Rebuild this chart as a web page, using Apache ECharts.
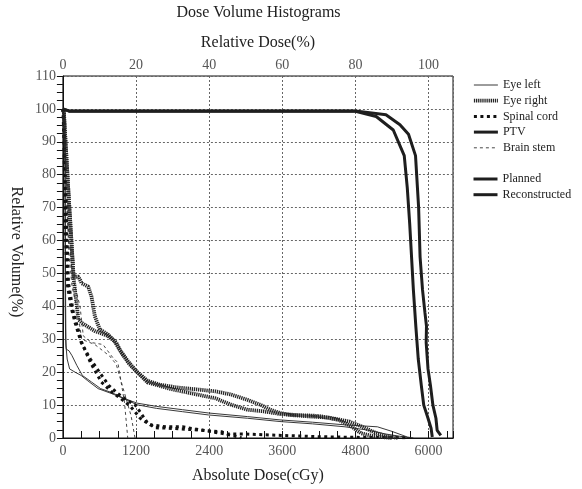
<!DOCTYPE html>
<html>
<head>
<meta charset="utf-8">
<script src="https://cdn.jsdelivr.net/npm/echarts@6/dist/echarts.min.js"></script>
<style>
html,body{margin:0;padding:0;background:#fff;}
#c{width:582px;height:489px;}
</style>
</head>
<body>
<div id="c"></div>
<script>
// ---- data (dose in cGy, relative volume in %) ----
const title = 'Dose Volume Histograms';
const bottomAxisName = 'Absolute Dose(cGy)';
const topAxisName = 'Relative Dose(%)';
const leftAxisName = 'Relative Volume(%)';
const legendGroup1 = ['Eye left', 'Eye right', 'Spinal cord', 'PTV', 'Brain stem'];
const legendGroup2 = ['Planned', 'Reconstructed'];
const prescriptionDose = 6000; // 100 % relative dose

const eyeLeftA = [[0,100],[30,99],[38,40],[45,30],[55,27],[100,26.5],[150,25],[230,22],[320,19],[470,17],[620,15],[800,13.8],[1010,12],[1216,10.6],[1536,9.6],[1962,8.6],[2389,7.6],[3028,6.5],[3561,5.5],[4094,4.8],[4627,4],[5160,3.4],[5400,2],[5650,0.3],[5750,0]];
const eyeLeftB = [[0,100],[35,99],[45,40],[50,28],[70,24],[110,21],[200,20],[300,19],[400,17.5],[578,15],[800,13.5],[1010,11.9],[1216,10.1],[1536,9.0],[1962,8.0],[2389,7.0],[3028,6.0],[3561,5.0],[4094,4.3],[4627,3.4],[5000,2.4],[5300,1.2],[5640,0.2],[5700,0]];

const eyeRightA = [[0,100],[16,99],[43,90],[96,73],[139,60],[176,49],[256,49],[308,47],[416,46],[469,43],[497,40],[524,37],[605,33],[736,31.5],[875,29],[956,26],[1091,22.4],[1226,19.9],[1388,17.4],[1589,16.2],[1856,15.4],[2229,14.7],[2495,14.2],[2762,13.2],[3028,11.6],[3241,10.1],[3401,8.6],[3561,7.6],[3721,7.0],[4094,6.5],[4361,6.2],[4700,5.0],[4900,3.5],[5100,1.8],[5300,0.6],[5500,0]];
const eyeRightB = [[0,100],[16,99],[43,90],[96,73],[139,60],[173,49],[254,36],[308,35],[524,32.5],[740,31],[848,29.4],[929,26.9],[1064,23.4],[1199,20.4],[1388,16.9],[1766,14.9],[2414,12.4],[2495,12.1],[2762,10.1],[3028,8.6],[3295,8.1],[3561,7.3],[3828,7.0],[4201,6.7],[4521,5.5],[4734,3.5],[4894,1.4],[5100,0.5],[5400,0]];

const spinalCordA = [[0,100],[20,95],[60,65],[92,47],[173,38],[250,33],[310,29],[450,23],[632,17],[800,14],[956,11.9],[1109,9.6],[1269,6.0],[1429,4.0],[1700,3.4],[1962,3.4],[2282,2.4],[2602,1.4],[2869,0.4],[2930,0]];
const spinalCordB = [[0,100],[15,92],[45,60],[70,47],[130,40],[200,35],[300,29],[450,24],[600,20],[750,16],[900,13.5],[1050,11.5],[1189,10],[1376,4.9],[1509,3.1],[1714,3.0],[2240,2.4],[2603,1.9],[2700,1.2],[2987,1.2],[3403,0.9],[4203,0.4],[4736,0.2],[5664,0.1]];

const ptvA = [[0,100],[100,99.3],[4800,99.3],[5140,97.7],[5420,93.6],[5600,85.8],[5650,76],[5690,65],[5720,55],[5750,45],[5790,34],[5830,24],[5880,16],[5920,10],[5990,6],[6040,3],[6060,0.3]];
const ptvB = [[0,100],[100,99.4],[4800,99.4],[5300,98.2],[5530,95.2],[5670,92.3],[5785,85.8],[5836,70],[5860,55],[5900,45],[5940,38],[5965,34],[5960,29],[5990,21],[6030,16],[6070,10],[6120,6],[6140,2.3],[6200,0.8]];

const brainStemA = [[0,100],[20,95],[50,80],[100,60],[160,49],[227,44],[281,40],[335,31],[470,29],[659,28.4],[713,27],[821,24.4],[902,22.9],[929,19.9],[1010,10.9],[1064,0]];
const brainStemB = [[0,100],[20,94],[50,76],[100,56],[150,46],[200,42],[254,37],[308,30],[524,28.4],[767,24.9],[875,22.4],[929,18.9],[1118,6.8],[1183,0]];

const doseTicks = {min: 0, max: 6400, interval: 1200};
const volTicks = {min: 0, max: 110, interval: 10};
const relTicks = {min: 0, interval: 20};

// ---- styles ----
const FONT = 'Liberation Serif';
const styles = {
  'Eye left':   {width: 0.9, type: 'solid', color: '#222'},
  'Eye right':  {width: 3.8, type: [1.3, 0.8], color: '#262626'},
  'Spinal cord':{width: 3, type: [3, 3.5], color: '#111'},
  'PTV':        {width: 3, type: 'solid', color: '#1e1e1e'},
  'Brain stem': {width: 0.9, type: [3, 3], color: '#333'},
  'Planned':    {width: 3, type: 'solid', color: '#1e1e1e'},
  'Reconstructed': {width: 3, type: 'solid', color: '#1e1e1e'}
};

function mk(name, data, z) {
  const st = styles[name];
  return {
    name: name, type: 'line', data: data, symbol: 'none', showSymbol: false,
    xAxisIndex: 0, yAxisIndex: 0, z: z || 2, silent: true, animation: false,
    lineStyle: {width: st.width, type: st.type, color: st.color},
    itemStyle: {color: st.color}
  };
}

const series = [
  mk('Eye left', eyeLeftA), mk('Eye left', eyeLeftB),
  mk('Brain stem', brainStemA), mk('Brain stem', brainStemB),
  mk('Spinal cord', spinalCordA), mk('Spinal cord', spinalCordB),
  mk('Eye right', eyeRightA, 3), mk('Eye right', eyeRightB, 3),
  mk('PTV', ptvA, 4), mk('PTV', ptvB, 4),
  mk('Planned', []), mk('Reconstructed', [])
];

const gridL = 54, gridR = 582 - 453, gridT = 76, gridB = 489 - 443;
const plain = function (v) { return String(Math.round(v)); };
const labelStyle = {fontFamily: FONT, fontSize: 14, color: '#555', formatter: plain};

const legendBase = {
  orient: 'vertical', left: 472, padding: 0, itemWidth: 24, itemHeight: 14, itemGap: 3.7,
  icon: 'inherit', selectedMode: false,
  itemStyle: {opacity: 0},
  lineStyle: {width: 'inherit', type: 'inherit', color: 'inherit'},
  textStyle: {fontFamily: FONT, fontSize: 12, color: '#222'}
};

const option = {
  animation: false,
  backgroundColor: '#fff',
  title: {
    text: title, left: (gridL + 453) / 2, top: 0, textAlign: 'center',
    textStyle: {fontFamily: FONT, fontSize: 16, fontWeight: 'normal', color: '#222'}
  },
  legend: [
    Object.assign({}, legendBase, {top: 79, data: legendGroup1}),
    Object.assign({}, legendBase, {top: 173, data: legendGroup2})
  ],
  grid: {left: gridL, right: gridR, top: gridT, bottom: gridB, show: true, borderColor: '#111', borderWidth: 1, backgroundColor: 'transparent'},
  xAxis: [
    {
      type: 'value', position: 'bottom', min: doseTicks.min, max: doseTicks.max, interval: doseTicks.interval,
      name: bottomAxisName, nameLocation: 'middle', nameGap: 30,
      nameTextStyle: {fontFamily: FONT, fontSize: 16, color: '#222'},
      axisLine: {show: true, onZero: false, lineStyle: {color: '#111', width: 1}},
      axisTick: {show: true, inside: true, length: 7, lineStyle: {color: '#111'}},
      minorTick: {show: true, splitNumber: 4, length: 7, lineStyle: {color: '#111'}},
      axisLabel: Object.assign({margin: 6, showMaxLabel: false}, labelStyle),
      splitLine: {show: true, lineStyle: {type: [2, 2], color: '#666', width: 1}}
    },
    {
      type: 'value', position: 'top', min: relTicks.min, max: doseTicks.max / prescriptionDose * 100, interval: relTicks.interval,
      name: topAxisName, nameLocation: 'middle', nameGap: 25,
      nameTextStyle: {fontFamily: FONT, fontSize: 16, color: '#222'},
      axisLine: {show: true, lineStyle: {color: '#111', width: 1}},
      axisTick: {show: true, inside: false, length: 6, lineStyle: {color: '#111'}},
      minorTick: {show: true, splitNumber: 4, length: 6, lineStyle: {color: '#111'}},
      axisLabel: Object.assign({margin: 4, showMaxLabel: false}, labelStyle),
      splitLine: {show: false}
    }
  ],
  yAxis: [
    {
      type: 'value', min: volTicks.min, max: volTicks.max, interval: volTicks.interval,
      name: leftAxisName, nameLocation: 'middle', nameGap: 36, nameRotate: -90,
      nameTextStyle: {fontFamily: FONT, fontSize: 16, color: '#222', padding: [0, 10, 0, 0]},
      axisLine: {show: true, onZero: false, lineStyle: {color: '#111', width: 1}},
      axisTick: {show: true, inside: false, length: 6, lineStyle: {color: '#111'}},
      minorTick: {show: true, splitNumber: 4, length: 6, lineStyle: {color: '#111'}},
      axisLabel: Object.assign({margin: 7, showMaxLabel: true}, labelStyle),
      splitLine: {show: true, lineStyle: {type: [2, 2], color: '#666', width: 1}}
    }
  ],
  series: series
};

const chart = echarts.init(document.getElementById('c'), null, {renderer: 'canvas'});
chart.setOption(option);
</script>
</body>
</html>
